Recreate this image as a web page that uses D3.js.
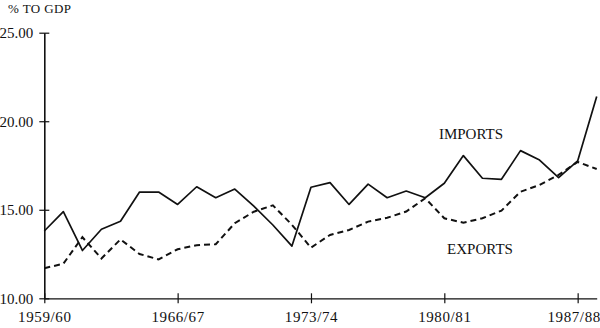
<!DOCTYPE html>
<html>
<head>
<meta charset="utf-8">
<script src="https://cdn.jsdelivr.net/npm/d3@7"></script>
<style>
  body { margin: 0; background: #fff; }
  text { font-family: "Liberation Serif", "DejaVu Serif", serif; fill: #111; }
</style>
</head>
<body>
<div id="chart"></div>
<script>
  // data (% to GDP)
  const years = ["1959/60", "1960/61", "1961/62", "1962/63", "1963/64", "1964/65",
    "1965/66", "1966/67", "1967/68", "1968/69", "1969/70", "1970/71", "1971/72",
    "1972/73", "1973/74", "1974/75", "1975/76", "1976/77", "1977/78", "1978/79",
    "1979/80", "1980/81", "1981/82", "1982/83", "1983/84", "1984/85", "1985/86",
    "1986/87", "1987/88", "1988/89"];
  const imports = [13.8, 14.9, 12.7, 13.9, 14.35, 16.0, 16.0, 15.3, 16.3, 15.68,
    16.17, 15.2, 14.14, 12.95, 16.27, 16.53, 15.3, 16.45, 15.68, 16.06,
    15.68, 16.5, 18.06, 16.78, 16.72, 18.34, 17.81, 16.82, 17.76, 21.4];
  const exports = [11.7, 11.95, 13.45, 12.25, 13.33, 12.5, 12.2, 12.77, 13.0, 13.05,
    14.24, 14.89, 15.25, 14.15, 12.86, 13.58, 13.86, 14.33, 14.55, 14.9,
    15.65, 14.52, 14.27, 14.52, 14.95, 16.02, 16.4, 16.97, 17.7, 17.3];
  const xTicks = ["1959/60", "1966/67", "1973/74", "1980/81", "1987/88"];
  const yTicks = [10, 15, 20, 25];

  const width = 600, height = 328;

  const svg = d3.select("#chart")
    .append("svg")
    .attr("width", width)
    .attr("height", height);

  const x = d3.scalePoint().domain(years).range([44.3, 596.7]);
  const y = d3.scaleLinear().domain([10, 25]).range([298.3, 32.7]);

  // x axis
  const xAxis = svg.append("g")
    .attr("transform", `translate(0,${y(10)})`)
    .call(d3.axisBottom(x).tickValues(xTicks).tickSizeOuter(0));
  xAxis.select(".domain").attr("stroke", "#111").attr("stroke-width", 1.3);
  xAxis.selectAll(".tick line").attr("y1", -5).attr("y2", 5)
    .attr("stroke", "#111").attr("stroke-width", 1.2);
  xAxis.selectAll(".tick text")
    .attr("y", 24).attr("dy", 0)
    .style("font-size", "15px")
    .style("letter-spacing", "0.6px")
    .attr("fill", "#111");
  // last label sits against the right edge
  xAxis.selectAll(".tick text").filter(d => d === "1987/88").attr("x", -4);
  xAxis.attr("font-family", null).attr("font-size", null);

  // y axis
  const yAxis = svg.append("g")
    .attr("transform", `translate(${x(years[0])},0)`)
    .call(d3.axisLeft(y).tickValues(yTicks).tickFormat(d3.format(".2f")).tickSizeOuter(0));
  yAxis.select(".domain").attr("stroke", "#111").attr("stroke-width", 1.6);
  yAxis.selectAll(".tick line").attr("x1", -5).attr("x2", 5)
    .attr("stroke", "#111").attr("stroke-width", 1.2);
  yAxis.selectAll(".tick text")
    .attr("x", -11).attr("dy", "0.34em")
    .style("font-size", "15px")
    .attr("fill", "#111");
  yAxis.attr("font-family", null).attr("font-size", null);

  svg.append("text")
    .attr("x", 8)
    .attr("y", 13)
    .style("font-size", "13px")
    .style("letter-spacing", "0.4px")
    .text("% TO GDP");

  const line = d3.line()
    .x((d, i) => x(years[i]))
    .y(d => y(d));

  svg.append("path")
    .datum(imports)
    .attr("fill", "none")
    .attr("stroke", "#111")
    .attr("stroke-width", 1.7)
    .attr("stroke-linejoin", "round")
    .attr("d", line);

  svg.append("path")
    .datum(exports)
    .attr("fill", "none")
    .attr("stroke", "#111")
    .attr("stroke-width", 2)
    .attr("stroke-dasharray", "6,4")
    .attr("d", line);

  svg.append("text")
    .attr("x", 471)
    .attr("y", 139)
    .attr("text-anchor", "middle")
    .style("font-size", "15px")
    .text("IMPORTS");

  svg.append("text")
    .attr("x", 480)
    .attr("y", 254)
    .attr("text-anchor", "middle")
    .style("font-size", "15px")
    .text("EXPORTS");
</script>
</body>
</html>
